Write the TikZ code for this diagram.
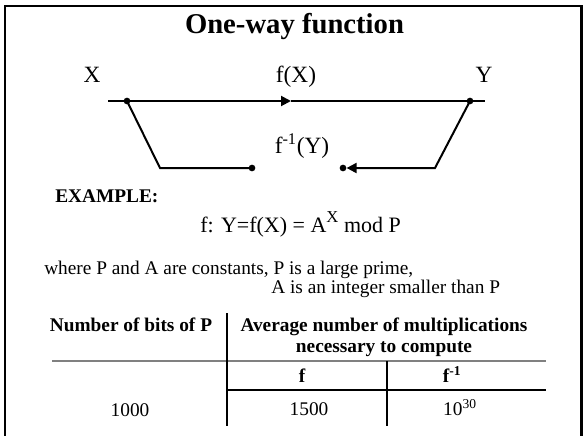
\documentclass[tikz,border=0pt]{standalone}
\usepackage{fontspec}
\setmainfont{Liberation Serif}
\usetikzlibrary{arrows.meta}
\begin{document}
\begin{tikzpicture}[x=0.75pt,y=-0.75pt,
  conn/.style={line width=1.5pt},
  dotnode/.style={circle,fill=black,inner sep=0pt,minimum size=5pt},
  lbl/.style={inner sep=0pt,anchor=base,font=\fontsize{17.5}{21}\selectfont},
  txt/.style={inner sep=0pt,anchor=base,font=\fontsize{14.5}{17}\selectfont},
  boldtxt/.style={inner sep=0pt,anchor=base,font=\fontsize{14.5}{17}\selectfont\bfseries},
  tiparrow/.style={-{Triangle[length=7.5pt,width=7.5pt]}},
  rule/.style={line width=0.8pt},
  grayrule/.style={line width=2.2pt,draw=black!50}]
\useasboundingbox (0,0) rectangle (583,436);
% frame
\draw[line width=1.8pt] (5,445) -- (5,6) -- (581.5,6) -- (581.5,445);
% title
\node[anchor=base,inner sep=0pt,font=\fontsize{21.5}{26}\selectfont\bfseries] (title) at (294.5,33) {One-way function};
% diagram
\node[lbl] (lx) at (92,82) {X};
\node[lbl] (lfx) at (296,82) {f(X)};
\node[lbl] (ly) at (484,82) {Y};
\node[lbl] (lfi) at (302,153) {f\textsuperscript{-1}(Y)};
\coordinate (lstart) at (108,101);
\coordinate (lend) at (485,101);
\coordinate (mtip) at (291,101);
\node[dotnode] (dx) at (127,101) {};
\node[dotnode] (dy) at (470,101) {};
\coordinate (cl) at (160,168);
\coordinate (cr) at (435,168);
\node[dotnode] (d1) at (252,168) {};
\node[dotnode] (d2) at (343,168) {};
\draw[conn] (lstart) -- (dx.center);
\draw[conn,tiparrow] (dx.center) -- (mtip);
\draw[conn] (mtip) -- (dy.center) -- (lend);
\draw[conn] (dx.center) -- (cl) -- (d1.center);
\draw[conn,tiparrow] (dy.center) -- (cr) -- (d2);
% example
\node[boldtxt,anchor=base west] (ex) at (55,202) {EXAMPLE:};
\node[anchor=base west,inner sep=0pt,font=\fontsize{16.5}{20}\selectfont] (formula) at (200,232) {f: Y=f(X) = A\raisebox{0.42em}{\fontsize{12.5}{14}\selectfont X} mod P};
\node[txt,anchor=base west] (where1) at (44,274) {where P and A are constants, P is a large prime,};
\node[txt,anchor=base west] (where2) at (271,293) {A is an integer smaller than P};
% table
\node[boldtxt] (h1) at (131,331) {Number of bits of P};
\node[boldtxt] (h2a) at (384,331) {Average number of multiplications};
\node[boldtxt] (h2b) at (384,352) {necessary to compute};
\coordinate (g1) at (52,361);
\coordinate (g2) at (546,361);
\draw[grayrule] (g1) -- (g2);
\coordinate (v1t) at (227,313);
\coordinate (v1b) at (227,426);
\draw[rule] (v1t) -- (v1b);
\coordinate (v2t) at (387,361);
\coordinate (v2b) at (387,426);
\draw[rule] (v2t) -- (v2b);
\coordinate (t1) at (227,390);
\coordinate (t2) at (546,390);
\draw[rule] (t1) -- (t2);
\node[boldtxt] (cf) at (302,382) {f};
\node[boldtxt] (cfi) at (452,382) {f\textsuperscript{-1}};
\node[txt] (n1) at (130,416) {1000};
\node[txt] (n2) at (309,415) {1500};
\node[txt] (n3) at (460,415) {10\textsuperscript{30}};
\end{tikzpicture}
\end{document}
